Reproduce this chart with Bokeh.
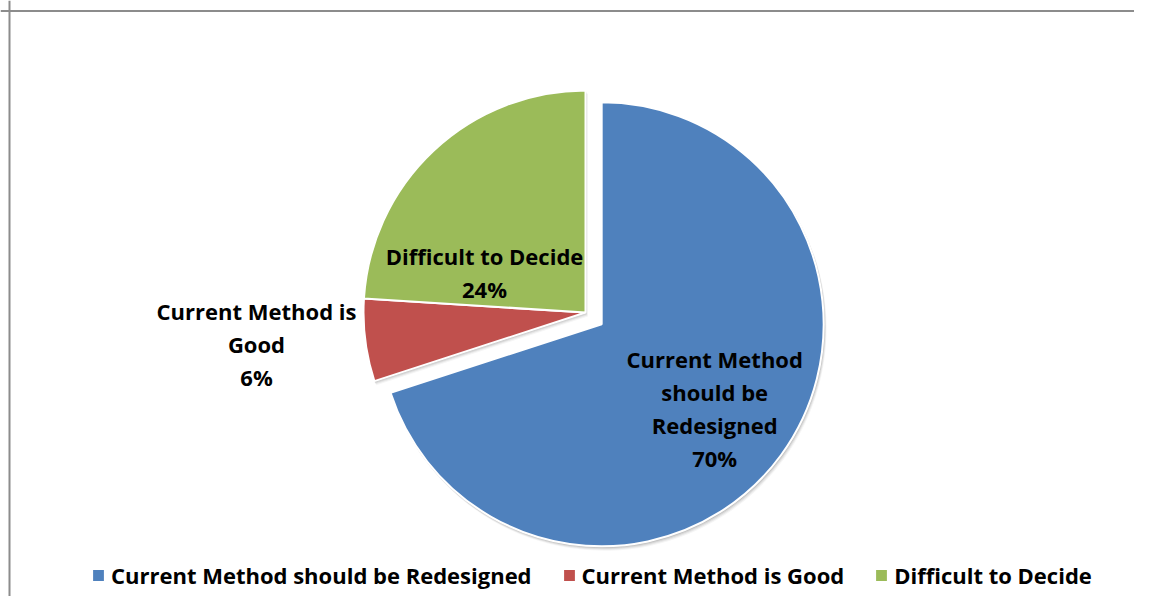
import numpy as np
from bokeh.plotting import figure
from bokeh.models import Range1d, Span, Legend, LegendItem, ColumnDataSource
from bokeh.core.properties import value
from bokeh.embed import file_html
from bokeh.resources import INLINE

# ---- data ----
categories = ["Current Method should be Redesigned", "Current Method is Good", "Difficult to Decide"]
shares = [70, 6, 24]
slice_labels = ["Current Method\nshould be\nRedesigned", "Current Method is\nGood", "Difficult to Decide"]
colors = ["#4F81BD", "#C0504D", "#9BBB59"]

# ---- layout / style ----
W, H = 1134, 596
CX, CY, R = 585, 300, 222          # pie centre (data units == pixels)
explode = [20, 0, 0]
label_offsets = [(113, -84), (-329, -31), (-101, 40)]
FONT = "Open Sans"

p = figure(width=W, height=H, output_backend="svg", toolbar_location=None,
           x_range=Range1d(0, W), y_range=Range1d(612 - H, 612), min_border=0)
p.axis.visible = False
p.grid.visible = False
p.outline_line_color = None
p.background_fill_color = "white"
p.border_fill_color = "white"

vals = np.array(shares, dtype=float)
cum = np.cumsum(vals) / vals.sum() * 2 * np.pi
prev = np.concatenate([[0], cum[:-1]])
start = np.pi / 2 - cum
end = np.pi / 2 - prev
mid = (start + end) / 2
ex = np.array(explode, dtype=float)
cx = CX + ex * np.cos(mid)
cy = CY + ex * np.sin(mid)

src = ColumnDataSource(dict(cx=cx, cy=cy, start=start, end=end, color=colors,
                            cat=categories))

# soft shadow
for k, a in [(1, 0.10), (2, 0.08), (3, 0.06), (4, 0.04)]:
    p.wedge(x=cx + 0.6 * k, y=cy - 1.0 * k, radius=R + 0.5, start_angle=start, end_angle=end,
            fill_color="black", fill_alpha=a, line_color=None)

wr = p.wedge(x="cx", y="cy", radius=R, start_angle="start", end_angle="end",
             fill_color="color", line_color="white", line_width=2, source=src)

# data labels
lx = [cx[i] + label_offsets[i][0] for i in range(3)]
ly = [cy[i] + label_offsets[i][1] for i in range(3)]
txt = [f"{slice_labels[i]}\n{shares[i]}%" for i in range(3)]
p.text(x=lx, y=ly, text=txt, text_align="center", text_baseline="middle",
       text_font=value(FONT), text_font_style="bold", text_font_size="22px",
       text_line_height=1.1, text_color="black")

# border (top and left only are visible in the reference)
p.add_layout(Span(location=9, dimension="height", line_color="#8c8c8c", line_width=2))
p.add_layout(Span(location=612 - 10.5, dimension="width", line_color="#8c8c8c", line_width=2))

items = [LegendItem(label=categories[i], renderers=[wr], index=i) for i in range(3)]
legend = Legend(items=items, orientation="horizontal", location=(90, 6),
                label_text_font=FONT, label_text_font_style="bold",
                label_text_color="black",
                label_text_font_size="22px", glyph_width=16, glyph_height=16,
                spacing=29, label_standoff=5, padding=0, margin=0,
                border_line_color=None, background_fill_alpha=0)
p.add_layout(legend)

open("out.html", "w").write(file_html(p, INLINE))
